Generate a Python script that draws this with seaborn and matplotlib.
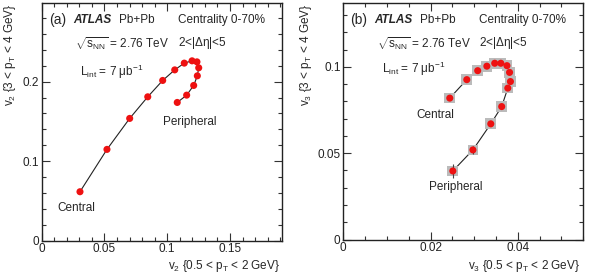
import matplotlib
matplotlib.use('Agg')
import matplotlib.pyplot as plt
from matplotlib.ticker import MultipleLocator
import seaborn as sns
import pandas as pd

# panel (a): v2 low pT vs v2 high pT, central -> peripheral
v2_low = [0.0305, 0.052, 0.0701, 0.0845, 0.0964, 0.106, 0.1136, 0.1198,
          0.1237, 0.1251, 0.124, 0.1211, 0.1155, 0.108]
v2_high = [0.0614, 0.1147, 0.1537, 0.1809, 0.2015, 0.2148, 0.2233, 0.2262,
           0.2249, 0.2174, 0.2073, 0.1952, 0.183, 0.1738]

# panel (b): v3 low pT vs v3 high pT, central -> peripheral
v3_low = [0.0244, 0.0283, 0.0308, 0.0329, 0.0347, 0.0361, 0.0375, 0.0381,
          0.0383, 0.0377, 0.0363, 0.0338, 0.0297, 0.0251]
v3_high = [0.0819, 0.0926, 0.0978, 0.1004, 0.1021, 0.1021, 0.1007, 0.0968,
           0.0915, 0.0877, 0.077, 0.067, 0.0519, 0.0397]
v3_high_err = [0, 0, 0, 0, 0, 0, 0, 0, 0, 0, 0, 0, 0.0025, 0.0042]

df_a = pd.DataFrame({'x': v2_low, 'y': v2_high})
df_b = pd.DataFrame({'x': v3_low, 'y': v3_high, 'err': v3_high_err})

sns.set_style('ticks')
plt.rcParams['font.family'] = ['Liberation Sans', 'DejaVu Sans']
plt.rcParams['mathtext.fontset'] = 'custom'
plt.rcParams['mathtext.rm'] = 'Liberation Sans'
plt.rcParams['mathtext.it'] = 'Liberation Sans'

W, H = 589, 276
fig = plt.figure(figsize=(W / 100, H / 100), dpi=100)
ax1 = fig.add_axes([41.7 / W, 1 - 240.5 / H, 240.6 / W, 237.5 / H])
ax2 = fig.add_axes([343.3 / W, 1 - 239.5 / H, 240.0 / W, 236.5 / H])

red = '#ee1111'


def style_axis(ax):
    ax.tick_params(which='both', direction='in', top=True, right=True,
                   labelsize=8.5, color='#333333', labelcolor='#222222')
    ax.tick_params(which='major', length=6, width=0.8)
    ax.tick_params(which='minor', length=3, width=0.8)
    ax.tick_params(axis='x', pad=2)
    ax.tick_params(axis='y', pad=2)
    for s in ax.spines.values():
        s.set_linewidth(1.0)
        s.set_color('#222222')
    ax.set_xlabel('')
    ax.set_ylabel('')


# ---- panel (a)
sns.lineplot(data=df_a, x='x', y='y', sort=False, color='#222222',
             linewidth=0.8, ax=ax1)
sns.scatterplot(data=df_a, x='x', y='y', color=red, s=26, edgecolor='none',
                zorder=5, ax=ax1)
ax1.set_xlim(0, 0.1917)
ax1.set_ylim(0, 0.299)
ax1.set_xticks([0, 0.05, 0.1, 0.15])
ax1.set_xticklabels(['0', '0.05', '0.1', '0.15'])
ax1.set_yticks([0, 0.1, 0.2])
ax1.set_yticklabels(['0', '0.1', '0.2'])
ax1.xaxis.set_minor_locator(MultipleLocator(0.01))
ax1.yaxis.set_minor_locator(MultipleLocator(0.02))
style_axis(ax1)

# ---- panel (b)
sns.lineplot(data=df_b, x='x', y='y', sort=False, color='#222222',
             linewidth=0.8, ax=ax2)
sns.scatterplot(data=df_b, x='x', y='y', color='#bbbbbb', marker='s', s=60,
                edgecolor='none', zorder=3, ax=ax2)
ax2.errorbar(df_b['x'], df_b['y'], yerr=df_b['err'], fmt='none',
             ecolor='#444444', elinewidth=0.8, zorder=4)
sns.scatterplot(data=df_b, x='x', y='y', color=red, s=26, edgecolor='none',
                zorder=5, ax=ax2)
ax2.set_xlim(0, 0.055)
ax2.set_ylim(0, 0.137)
ax2.set_xticks([0, 0.02, 0.04])
ax2.set_xticklabels(['0', '0.02', '0.04'])
ax2.set_yticks([0, 0.05, 0.1])
ax2.set_yticklabels(['0', '0.05', '0.1'])
ax2.xaxis.set_minor_locator(MultipleLocator(0.005))
ax2.yaxis.set_minor_locator(MultipleLocator(0.01))
style_axis(ax2)

# axis titles, ROOT style (right / top aligned)
fig.text(280 / W, 1 - 266 / H, r'$v_2$ {0.5 < $p_T$ < 2 GeV}', fontsize=8.5,
         ha='right', va='center')
fig.text(580 / W, 1 - 266 / H, r'$v_3$ {0.5 < $p_T$ < 2 GeV}', fontsize=8.5,
         ha='right', va='center')
fig.text(10 / W, 1 - 4 / H, r'$v_2$ {3 < $p_T$ < 4 GeV}', fontsize=8.5,
         rotation=90, ha='center', va='top')
fig.text(306 / W, 1 - 4 / H, r'$v_3$ {3 < $p_T$ < 4 GeV}', fontsize=8.5,
         rotation=90, ha='center', va='top')

# ---- annotations
for ax, tag in [(ax1, '(a)'), (ax2, '(b)')]:
    ax.text(0.03, 0.93, tag, transform=ax.transAxes, fontsize=10, va='center')
    ax.text(0.13, 0.93, 'ATLAS', transform=ax.transAxes, fontsize=8.5,
            fontweight='bold', style='italic', va='center')
    ax.text(0.32, 0.93, 'Pb+Pb', transform=ax.transAxes, fontsize=8.5,
            va='center')
    ax.text(0.565, 0.93, 'Centrality 0-70%', transform=ax.transAxes,
            fontsize=8.5, va='center')
    ax.text(0.565, 0.83, r'2<|$\Delta\eta$|<5', transform=ax.transAxes,
            fontsize=8.5, va='center')
    ax.text(0.14, 0.83, r'$\sqrt{s_{\rm NN}}$ = 2.76 TeV', transform=ax.transAxes,
            fontsize=8.5, va='center')

ax1.text(0.16, 0.71, r'L$_{\rm int}$ = 7 $\mu$b$^{-1}$', transform=ax1.transAxes,
         fontsize=8.5, va='center')
ax2.text(0.16, 0.72, r'L$_{\rm int}$ = 7 $\mu$b$^{-1}$', transform=ax2.transAxes,
         fontsize=8.5, va='center')

ax1.text(0.505, 0.50, 'Peripheral', transform=ax1.transAxes, fontsize=8.5,
         va='center')
ax1.text(0.065, 0.135, 'Central', transform=ax1.transAxes, fontsize=8.5,
         va='center')
ax2.text(0.305, 0.525, 'Central', transform=ax2.transAxes, fontsize=8.5,
         va='center')
ax2.text(0.355, 0.22, 'Peripheral', transform=ax2.transAxes, fontsize=8.5,
         va='center')

fig.savefig('out.png', dpi=100)
